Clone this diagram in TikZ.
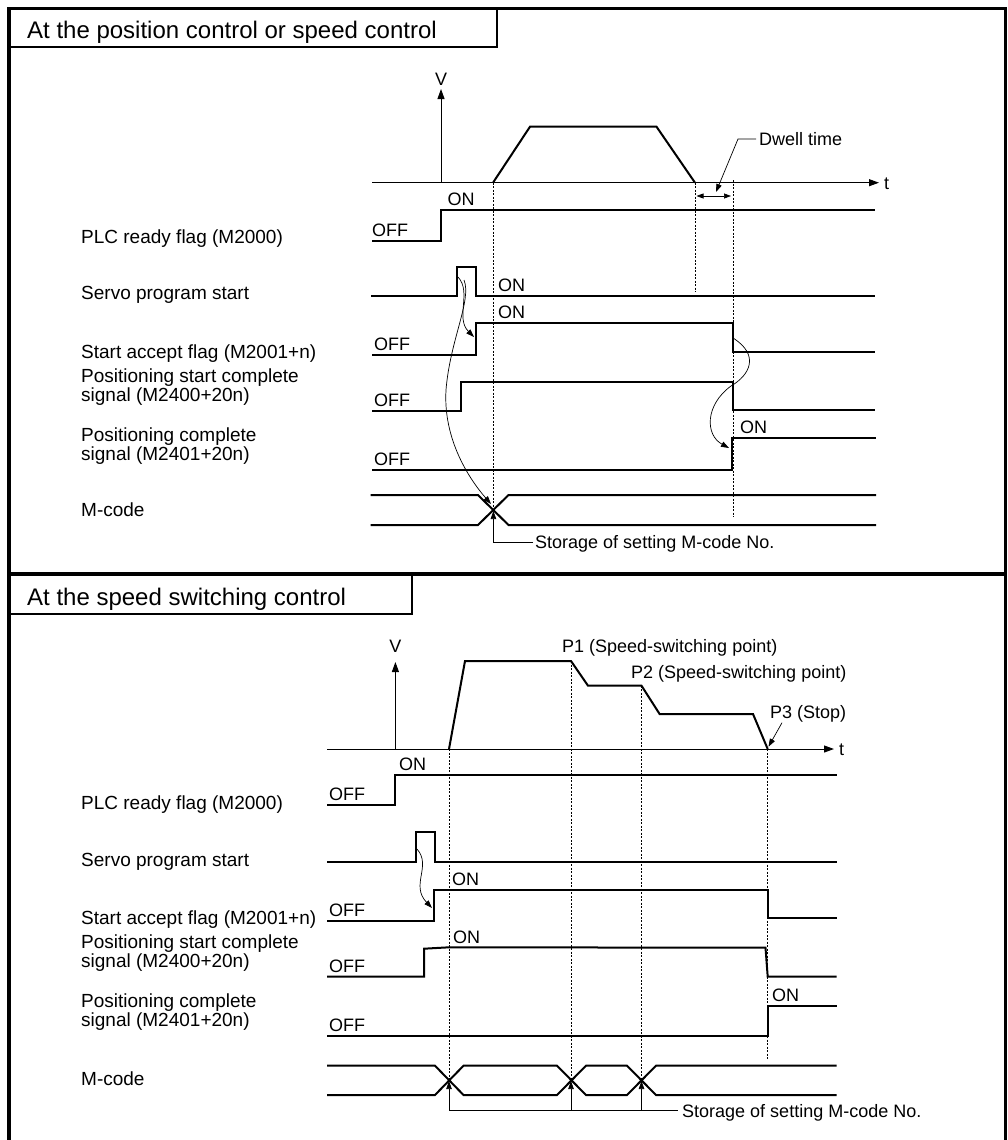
\documentclass[tikz,border=0pt]{standalone}
\usepackage{fontspec}
\setmainfont{Liberation Sans}
\usetikzlibrary{arrows.meta}
\begin{document}
\begin{tikzpicture}[x=1pt,y=-1pt,
  sig/.style={line width=2pt, line join=miter},
  axis/.style={line width=1pt},
  guide/.style={line width=0.7pt, dash pattern=on 2pt off 1.5pt},
  thinl/.style={line width=0.7pt},
  frame/.style={line width=3.8pt, line join=miter},
  tbox/.style={line width=1.5pt},
  lab/.style={font=\fontsize{18}{20}\selectfont, inner sep=0pt, anchor=base west},
  rowlab/.style={font=\fontsize{19}{21}\selectfont, inner sep=0pt, anchor=base west},
  ttl/.style={font=\fontsize{24}{28}\selectfont, inner sep=0pt, anchor=base west},
  bigtip/.style={-{Triangle[length=10pt,width=7pt]}},
  tip/.style={-{Triangle[length=8pt,width=5.5pt]}},
  dtip/.style={{Triangle[length=7pt,width=5pt]}-{Triangle[length=7pt,width=5pt]}},
]
\useasboundingbox (0,0) rectangle (1008,1140);
% ---------- frame ----------
\draw[frame] (9,1145) -- (9,8.5) -- (1005.5,8.5) -- (1005.5,1145);
\draw[frame] (9,574) -- (1005.5,574);
\draw[tbox] (9,47) -- (497,47) -- (497,8.5);
\draw[tbox] (9,614) -- (412,614) -- (412,574);
\node[ttl] (title1) at (27,39) {At the position control or speed control};
\node[ttl] (title2) at (27,605) {At the speed switching control};

% =============== TOP SECTION ===============
\draw[axis,bigtip] (372,182.7) -- (879,182.7);
\draw[axis,bigtip] (441,182.7) -- (441,89);
\node[lab,anchor=base] (V1) at (441,85.4) {V};
\node[lab] (t1) at (884,189.4) {t};
\draw[sig] (493,182.7) -- (530,126.7) -- (656.5,126.7) -- (695,182.7);
% guides
\draw[guide] (493,182.7) -- (493,508);
\draw[guide] (695,182.7) -- (695,292);
\draw[guide] (733,180) -- (733,517);
% dwell
\draw[thinl,dtip] (696.5,196) -- (731,196);
\draw[thinl,tip] (756,139) -- (738,139) -- (716,192);
\node[lab] (dwell) at (759,145.4) {Dwell time};
% labels
\node[rowlab] (l1a) at (81,243.8) {PLC ready flag (M2000)};
\node[rowlab] (l1b) at (81,299.8) {Servo program start};
\node[rowlab] (l1c) at (81,358.8) {Start accept flag (M2001+n)};
\node[rowlab] (l1d) at (81,382.8) {Positioning start complete};
\node[rowlab] (l1e) at (81,401.8) {signal (M2400+20n)};
\node[rowlab] (l1f) at (81,441.8) {Positioning complete};
\node[rowlab] (l1g) at (81,460.8) {signal (M2401+20n)};
\node[rowlab] (l1h) at (81,516.8) {M-code};
% PLC ready
\draw[sig] (372,240.7) -- (441,240.7) -- (441,210) -- (875,210);
\node[lab] (on1a) at (447.5,205.5) {ON};
\node[lab] (off1a) at (372,236.2) {OFF};
% Servo start
\draw[sig] (371,296) -- (456.5,296) -- (456.5,266.7) -- (475.5,266.7) -- (475.5,296) -- (875,296);
\node[lab] (on1b) at (498,291.5) {ON};
% Start accept
\draw[sig] (372,355.3) -- (476,355.3) -- (476,322.7) -- (733,322.7) -- (733,352) -- (875,352);
\node[lab] (on1c) at (498,318.2) {ON};
\node[lab] (off1c) at (374,350.8) {OFF};
% Positioning start complete
\draw[sig] (372,411) -- (461,411) -- (461,381.7) -- (733,381.7) -- (733,410) -- (875,410);
\node[lab] (off1d) at (374,406.5) {OFF};
% Positioning complete
\draw[sig] (372,469.7) -- (731.5,469.7) -- (731.5,438.3) -- (876,438.3);
\node[lab] (on1e) at (740,433.8) {ON};
\node[lab] (off1e) at (374,465.2) {OFF};
% M-code
\draw[sig] (370.5,495) -- (478,495) -- (508.5,525) -- (876,525);
\draw[sig] (370.5,525) -- (478,525) -- (508.5,495) -- (876,495);
\draw[thinl,tip] (533,542.3) -- (493.4,542.3) -- (493.4,511);
\node[lab] (stor1) at (535,548.7) {Storage of setting M-code No.};
% curved arrows
\draw[thinl,tip] (458,277) .. controls (472,292) and (455,318) .. (474,337);
\draw[thinl,tip] (464,280) .. controls (472,300) and (450,340) .. (446,390) .. controls (443,440) and (470,480) .. (491,504);
\draw[thinl,tip] (733,338) .. controls (760,355) and (750,375) .. (731,386) .. controls (705,405) and (705,435) .. (729,448);

% =============== BOTTOM SECTION ===============
\draw[axis,bigtip] (327,749) -- (834,749);
\draw[axis,bigtip] (395.4,749) -- (395.4,662);
\node[lab,anchor=base] (V2) at (395.4,652.4) {V};
\node[lab] (t2) at (839,755.4) {t};
\draw[sig] (449,749) -- (465,661) -- (571,661) -- (588,685.7) -- (641.5,685.7) -- (659.6,714) -- (753,714) -- (767.7,749);
\node[lab] (p1) at (562,652.4) {P1 (Speed-switching point)};
\node[lab] (p2) at (631,678) {P2 (Speed-switching point)};
\node[lab] (p3) at (770,718) {P3 (Stop)};
\draw[thinl,tip] (782,722.7) -- (768.5,746.7);
% guides
\draw[guide] (449,749) -- (449,1080);
\draw[guide] (571,661) -- (571,1080);
\draw[guide] (641.5,685.7) -- (641.5,1080);
\draw[guide] (767.7,749) -- (767.7,1059);
% labels
\node[rowlab] (l2a) at (81,809.3) {PLC ready flag (M2000)};
\node[rowlab] (l2b) at (81,866.3) {Servo program start};
\node[rowlab] (l2c) at (81,924.3) {Start accept flag (M2001+n)};
\node[rowlab] (l2d) at (81,948.8) {Positioning start complete};
\node[rowlab] (l2e) at (81,967.8) {signal (M2400+20n)};
\node[rowlab] (l2f) at (81,1007.8) {Positioning complete};
\node[rowlab] (l2g) at (81,1026.8) {signal (M2401+20n)};
\node[rowlab] (l2h) at (81,1085.8) {M-code};
% PLC ready
\draw[sig] (327,805) -- (395.4,805) -- (395.4,774.7) -- (836.5,774.7);
\node[lab] (on2a) at (399,770.2) {ON};
\node[lab] (off2a) at (329,800.5) {OFF};
% Servo start
\draw[sig] (327,862.3) -- (415.8,862.3) -- (415.8,831.7) -- (435,831.7) -- (435,862.3) -- (836.5,862.3);
% Start accept
\draw[sig] (327,920.7) -- (434,920.7) -- (434,890) -- (767.7,890) -- (767.7,917.7) -- (836.5,917.7);
\node[lab] (on2c) at (452,885.5) {ON};
\node[lab] (off2c) at (329,916.2) {OFF};
% Positioning start complete
\draw[sig] (327,976.7) -- (424,976.7) -- (424,948.7) -- (449,947.3) -- (765.5,947.7) -- (767.7,976.7) -- (836.5,976.7);
\node[lab] (on2d) at (453,943.2) {ON};
\node[lab] (off2d) at (329,972.2) {OFF};
% Positioning complete
\draw[sig] (327,1036.3) -- (767.7,1036.3) -- (767.7,1005.7) -- (836.5,1005.7);
\node[lab] (on2e) at (772,1001.2) {ON};
\node[lab] (off2e) at (329,1031.8) {OFF};
% M-code
\draw[sig] (327,1065.7) -- (435,1065.7) -- (463.5,1095) -- (557,1095) -- (586,1065.7) -- (627,1065.7) -- (656,1095) -- (836.5,1095);
\draw[sig] (327,1095) -- (435,1095) -- (463.5,1065.7) -- (557,1065.7) -- (586,1095) -- (627,1095) -- (656,1065.7) -- (836.5,1065.7);
\draw[thinl] (449,1110.7) -- (678,1110.7);
\draw[thinl,tip] (449,1110.7) -- (449,1081);
\draw[thinl,tip] (571,1110.7) -- (571,1081);
\draw[thinl,tip] (641.5,1110.7) -- (641.5,1081);
\node[lab] (stor2) at (682,1117.4) {Storage of setting M-code No.};
% curved arrow
\draw[thinl,tip] (417,849) .. controls (432,866) and (410,885) .. (432,908);
\end{tikzpicture}
\end{document}
